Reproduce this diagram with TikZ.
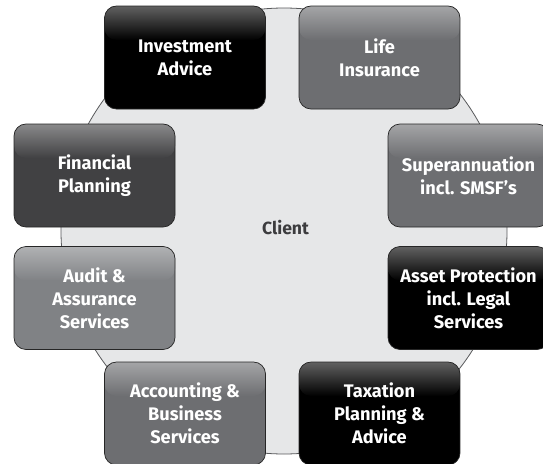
\documentclass[tikz,border=0pt]{standalone}
\usepackage{fontspec}
\setmainfont{Fira Sans}
\definecolor{hub}{HTML}{E6E7E8}
\definecolor{hubline}{HTML}{58595B}
\definecolor{svcblack}{HTML}{000000}
\definecolor{svcdark}{HTML}{414143}
\definecolor{svcmid}{HTML}{6D6E71}
\definecolor{svclight}{HTML}{808285}
\definecolor{clienttext}{HTML}{3C3C3E}
\tikzset{
  svc/.style={
    rounded corners=12pt, draw=black!85, line width=0.7pt,
    minimum width=161pt, minimum height=103pt, inner sep=0pt,
    text=white, align=center,
    font=\bfseries\fontsize{18.2}{23}\selectfont,
    path picture={
      \fill[#1] (path picture bounding box.south west) rectangle (path picture bounding box.north east);
      \shade[top color=#1!62!white, bottom color=#1]
        (path picture bounding box.north west) rectangle ([yshift=-34pt]path picture bounding box.north east);
    }
  }
}
\begin{document}
\begin{tikzpicture}[x=1pt,y=-1pt]
  \useasboundingbox (0,0) rectangle (543,463);
  % central hub
  \node[circle, draw=hubline, line width=0.8pt, fill=hub, minimum size=446pt, inner sep=0pt] (client) at (284,231) {};
  \node[text=clienttext, font=\bfseries\fontsize{17.6}{20}\selectfont] (clientlabel) at (285.5,228) {Client};
  % surrounding services
  \node[svc=svcblack] (invest) at (185,57.5)   {Investment\\Advice};
  \node[svc=svcmid]   (life)   at (379.5,57.5) {Life\\Insurance};
  \node[svc=svcdark]  (fin)    at (94.5,175.5) {Financial\\Planning};
  \node[svc=svcmid]   (super)  at (468.5,175.5){Superannuation\\incl. SMSF’s};
  \node[svc=svclight] (audit)  at (94.5,298)   {Audit \&\\Assurance\\Services};
  \node[svc=svcblack] (asset)  at (468.5,298)  {Asset Protection\\incl. Legal\\Services};
  \node[svc=svcmid]   (acct)   at (185,413.5)  {Accounting \&\\Business\\Services};
  \node[svc=svcblack] (tax)    at (379.5,413.5){Taxation\\Planning \&\\Advice};
\end{tikzpicture}
\end{document}
